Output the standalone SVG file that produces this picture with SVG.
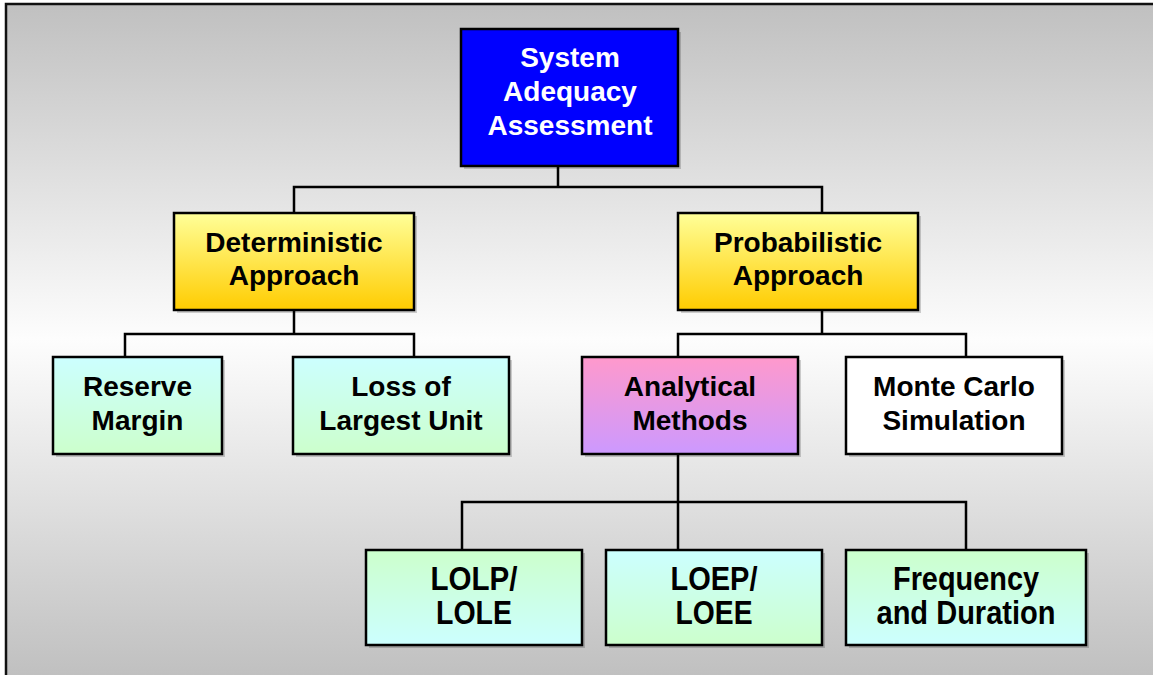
<svg xmlns="http://www.w3.org/2000/svg" width="1153" height="675" viewBox="0 0 1153 675">
<defs>
<linearGradient id="bg" x1="0" y1="0" x2="0" y2="1">
<stop offset="0" stop-color="#c0c0c0"/>
<stop offset="0.5" stop-color="#fdfdfd"/>
<stop offset="1" stop-color="#c0c0c0"/>
</linearGradient>
<linearGradient id="gold" x1="0" y1="0" x2="0" y2="1">
<stop offset="0" stop-color="#ffff99"/>
<stop offset="1" stop-color="#ffcc00"/>
</linearGradient>
<linearGradient id="cyanGreen" x1="0" y1="0" x2="0" y2="1">
<stop offset="0" stop-color="#ccffff"/>
<stop offset="1" stop-color="#ccffcc"/>
</linearGradient>
<linearGradient id="greenCyan" x1="0" y1="0" x2="0" y2="1">
<stop offset="0" stop-color="#ccffcc"/>
<stop offset="1" stop-color="#ccffff"/>
</linearGradient>
<linearGradient id="pinkPurple" x1="0" y1="0" x2="0" y2="1">
<stop offset="0" stop-color="#ff99cc"/>
<stop offset="1" stop-color="#cc99ff"/>
</linearGradient>
</defs>
<style>
.box{stroke:#000;stroke-width:2.5}
.sh{fill:#000;opacity:0.18}
.t{font-family:"Liberation Sans",Arial,sans-serif;font-weight:bold;font-size:28px;text-anchor:middle;fill:#000}
.w{fill:#fff}
.n{font-size:33px}
.conn{fill:none;stroke:#000;stroke-width:2.5}
</style>
<rect x="0" y="0" width="1153" height="675" fill="#ffffff"/>
<rect x="6" y="4" width="1147" height="671" fill="url(#bg)"/>
<path d="M6 675 V4 H1153" fill="none" stroke="#111" stroke-width="2.5"/>

<g id="connectors">
<path class="conn" d="M558 166 V187 M294 213 V187 H822 V213"/>
<path class="conn" d="M294 310 V334 M125 357 V334 H414 V357"/>
<path class="conn" d="M822 310 V334 M678 357 V334 H966 V357"/>
<path class="conn" d="M678 454 V550 M462 550 V502 H966 V550"/>
</g>

<g id="system-adequacy-assessment">
<rect class="sh" x="464" y="32" width="217" height="137"/>
<rect class="box" x="461" y="29" width="217" height="137" fill="#0000ff"/>
<text class="t w" x="570" y="67">System</text>
<text class="t w" x="570" y="101">Adequacy</text>
<text class="t w" x="570" y="135">Assessment</text>
</g>

<g id="deterministic-approach">
<rect class="sh" x="177" y="216" width="240" height="97"/>
<rect class="box" x="174" y="213" width="240" height="97" fill="url(#gold)"/>
<text class="t" x="294" y="252">Deterministic</text>
<text class="t" x="294" y="285">Approach</text>
</g>

<g id="probabilistic-approach">
<rect class="sh" x="681" y="216" width="240" height="97"/>
<rect class="box" x="678" y="213" width="240" height="97" fill="url(#gold)"/>
<text class="t" x="798" y="252">Probabilistic</text>
<text class="t" x="798" y="285">Approach</text>
</g>

<g id="reserve-margin">
<rect class="sh" x="56" y="360" width="169" height="97"/>
<rect class="box" x="53" y="357" width="169" height="97" fill="url(#cyanGreen)"/>
<text class="t" x="137.5" y="396">Reserve</text>
<text class="t" x="137.5" y="430">Margin</text>
</g>

<g id="loss-of-largest-unit">
<rect class="sh" x="296" y="360" width="216" height="97"/>
<rect class="box" x="293" y="357" width="216" height="97" fill="url(#cyanGreen)"/>
<text class="t" x="401" y="396">Loss of</text>
<text class="t" x="401" y="430">Largest Unit</text>
</g>

<g id="analytical-methods">
<rect class="sh" x="585" y="360" width="216" height="97"/>
<rect class="box" x="582" y="357" width="216" height="97" fill="url(#pinkPurple)"/>
<text class="t" x="690" y="396">Analytical</text>
<text class="t" x="690" y="430">Methods</text>
</g>

<g id="monte-carlo-simulation">
<rect class="sh" x="849" y="360" width="216" height="97"/>
<rect class="box" x="846" y="357" width="216" height="97" fill="#ffffff"/>
<text class="t" x="954" y="396">Monte Carlo</text>
<text class="t" x="954" y="430">Simulation</text>
</g>

<g id="lolp-lole">
<rect class="sh" x="369" y="553" width="216" height="95"/>
<rect class="box" x="366" y="550" width="216" height="95" fill="url(#greenCyan)"/>
<text class="t n" x="474" y="590" textLength="87" lengthAdjust="spacingAndGlyphs">LOLP/</text>
<text class="t n" x="474" y="624" textLength="76" lengthAdjust="spacingAndGlyphs">LOLE</text>
</g>

<g id="loep-loee">
<rect class="sh" x="609" y="553" width="216" height="95"/>
<rect class="box" x="606" y="550" width="216" height="95" fill="url(#cyanGreen)"/>
<text class="t n" x="714" y="590" textLength="87" lengthAdjust="spacingAndGlyphs">LOEP/</text>
<text class="t n" x="714" y="624" textLength="77" lengthAdjust="spacingAndGlyphs">LOEE</text>
</g>

<g id="frequency-and-duration">
<rect class="sh" x="849" y="553" width="240" height="95"/>
<rect class="box" x="846" y="550" width="240" height="95" fill="url(#greenCyan)"/>
<text class="t n" x="966" y="590" textLength="146" lengthAdjust="spacingAndGlyphs">Frequency</text>
<text class="t n" x="966" y="624" textLength="179" lengthAdjust="spacingAndGlyphs">and Duration</text>
</g>
</svg>
